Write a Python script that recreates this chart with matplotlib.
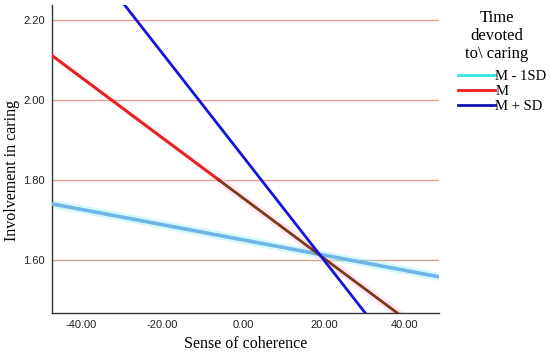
import matplotlib.pyplot as plt
from matplotlib.lines import Line2D

# values (line endpoints)
coherence = [-47.0, 48.4]
low_sd = [1.740, 1.558]
mean = [2.110, 1.390]
high_sd = [2.468, 1.232]
yticks = [1.60, 1.80, 2.00, 2.20]
xticks = [-40, -20, 0, 20, 40]
labels = ["M - 1SD", "M", "M + SD"]

SERIF = "Liberation Serif"


def main():
    fig = plt.figure(figsize=(5.5, 3.53), dpi=100)
    ax = fig.add_axes([0.094, 0.1133, 0.704, 0.8727])

    # horizontal grid lines, the lowest one tan like the original
    for y in yticks:
        c = "#c9a890" if y == 1.60 else "#f29a90"
        ax.axhline(y, color=c, lw=1.0, zorder=1)

    # M - 1SD: light blue line with a cyan halo
    ax.plot(coherence, low_sd, color="#9ff3f6", lw=6, alpha=0.45,
            solid_capstyle="butt", zorder=2)
    ax.plot(coherence, low_sd, color="#6fb6e6", lw=2.6, zorder=3)

    # M: red, turning brown below 1.80
    slope = (mean[1] - mean[0]) / (coherence[1] - coherence[0])
    x_cut = coherence[0] + (1.80 - mean[0]) / slope
    ax.plot([coherence[0], x_cut], [mean[0], 1.80], color="#ee1c1c",
            lw=2.2, zorder=3)
    ax.plot([x_cut, coherence[1]], [1.80, mean[1]], color="#ffd0f0",
            lw=6, alpha=0.5, solid_capstyle="butt", zorder=2)
    ax.plot([x_cut, coherence[1]], [1.80, mean[1]], color="#7a3a12",
            lw=2.0, zorder=3)

    # M + SD: blue
    ax.plot(coherence, high_sd, color="#1414d8", lw=2.0, zorder=4)

    ax.set_xlim(-47.2, 48.4)
    ax.set_ylim(1.4675, 2.2375)
    ax.set_xticks(xticks)
    ax.set_xticklabels([f"{t:.2f}" for t in xticks],
                       family="Liberation Sans", fontsize=8)
    ax.set_yticks(yticks)
    ax.set_yticklabels([f"{t:.2f}" for t in yticks],
                       family="Liberation Sans", fontsize=8)
    ax.tick_params(length=0, pad=5, colors="#222222")
    for side in ["top", "right"]:
        ax.spines[side].set_visible(False)
    for side in ["left", "bottom"]:
        ax.spines[side].set_color("#333333")
        ax.spines[side].set_linewidth(1.0)

    ax.set_xlabel("Sense of coherence", family=SERIF,
                  fontsize=11.5, labelpad=4)
    ax.set_ylabel("Involvement in caring", family=SERIF, fontsize=11.5)
    ax.yaxis.set_label_coords(-0.083, 0.464)

    # legend title placed on its own, entries below it
    fig.text(497 / 550, 1 - 36 / 353, "Time\ndevoted\nto\\ caring",
             ha="center", va="center", family=SERIF, fontsize=12,
             linespacing=1.2)
    handles = [Line2D([], [], color="#33e6e6", lw=2.0),
               Line2D([], [], color="#ee1c1c", lw=2.0),
               Line2D([], [], color="#1414b4", lw=2.0)]
    fig.legend(handles, labels, loc="upper left",
               bbox_to_anchor=(458 / 550, 1 - 70 / 353),
               frameon=False, borderpad=0, borderaxespad=0,
               handlelength=2.55, handletextpad=0.0, labelspacing=0.12,
               prop={"family": SERIF, "size": 10.5})

    fig.savefig("out.png", dpi=100)


if __name__ == "__main__":
    main()
